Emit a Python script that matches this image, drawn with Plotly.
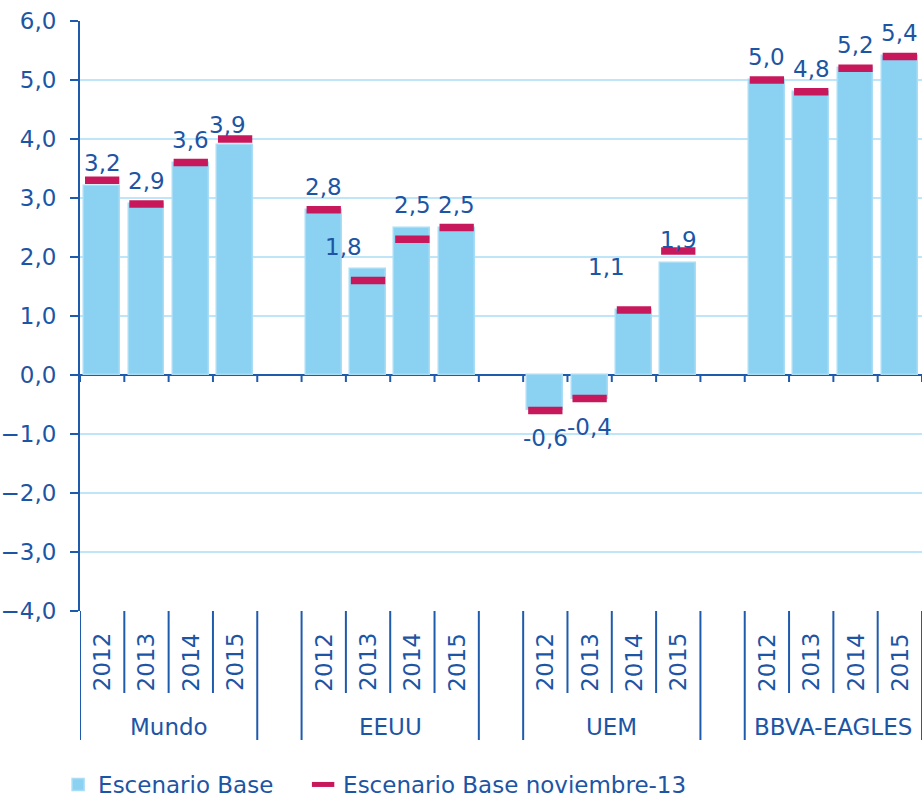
import plotly.graph_objects as go

# Regions and forecast years
groups = ["Mundo", "EEUU", "UEM", "BBVA-EAGLES"]
years = ["2012", "2013", "2014", "2015"]

# GDP growth (%), current baseline scenario
escenario_base = [3.2, 2.9, 3.6, 3.9,
                  2.8, 1.8, 2.5, 2.5,
                  -0.6, -0.4, 1.1, 1.9,
                  5.0, 4.8, 5.2, 5.4]

# GDP growth (%), baseline scenario of November 2013
escenario_nov13 = [3.3, 2.9, 3.6, 4.0,
                   2.8, 1.6, 2.3, 2.5,
                   -0.6, -0.4, 1.1, 2.1,
                   5.0, 4.8, 5.2, 5.4]

# y-axis range
y_min, y_max = -4, 6

# ---- styling ----
FONT = "DejaVu Sans"
TXT = "#1D55A5"
AXIS = "#1F5BAD"
GRID = "#BEE6F8"
BAR = "#8BD1F1"
BAR_EDGE = "#A9DDF5"
DASH = "#C8185C"
FS = 23

slots_per_group = len(years) + 1          # one empty slot between regions
n_slots = slots_per_group * len(groups) - 1

xpos = [g * slots_per_group + j for g in range(len(groups)) for j in range(len(years))]

fig = go.Figure()
fig.add_trace(go.Bar(
    x=xpos, y=escenario_base, width=0.81,
    marker=dict(color=BAR, line=dict(width=1.5, color=BAR_EDGE)),
    name="Escenario Base", legendwidth=200,
))
fig.add_trace(go.Scatter(
    x=xpos, y=escenario_nov13, mode="markers",
    # line-ew is 1.4 x size wide
    marker=dict(symbol="line-ew", size=24.5, line=dict(width=7.5, color=DASH), color=DASH),
    name="Escenario Base noviembre-13",
))

# value labels (a few are nudged sideways/up to avoid overlapping the dashes)
label_nudge = {3: (-8, 20), 5: (-25, 22), 10: (-27, 43)}
annotations = []
for i, (x, v) in enumerate(zip(xpos, escenario_base)):
    dx, dy = label_nudge.get(i, (0, 23 if v >= 0 else -28))
    annotations.append(dict(
        x=x, y=v, xref="x", yref="y", text=f"{v:.1f}".replace(".", ","),
        showarrow=False, xshift=dx, yshift=dy, xanchor="center", yanchor="middle",
        font=dict(family=FONT, size=FS, color=TXT),
    ))

# plot area geometry (pixels) used to place the category band below the plot
H = 801
top, bottom = 21, 190
plot_h = H - top - bottom


def paper_y(px):
    return (H - bottom - px) / plot_h


year_label_y = paper_y(662)
year_sep_y = paper_y(693)
group_sep_y = paper_y(740)
group_label_y = paper_y(727)

shapes = []
for g, name in enumerate(groups):
    start = g * slots_per_group
    for j, yr in enumerate(years):
        annotations.append(dict(
            x=start + j, y=year_label_y, xref="x", yref="paper", text=yr,
            textangle=-90, showarrow=False, xanchor="center", yanchor="middle",
            font=dict(family=FONT, size=FS, color=TXT),
        ))
        if j > 0:
            shapes.append(dict(type="line", xref="x", yref="paper",
                               x0=start + j - 0.5, x1=start + j - 0.5, y0=0, y1=year_sep_y,
                               line=dict(color=AXIS, width=2)))
    for edge in (start - 0.5, start + len(years) - 0.5):
        shapes.append(dict(type="line", xref="x", yref="paper",
                           x0=edge, x1=edge, y0=0, y1=group_sep_y,
                           line=dict(color=AXIS, width=2)))
    annotations.append(dict(
        x=start + (len(years) - 1) / 2, y=group_label_y, xref="x", yref="paper", text=name,
        showarrow=False, xanchor="center", yanchor="middle",
        font=dict(family=FONT, size=FS, color=TXT),
    ))

# small downward ticks on the zero line at every slot boundary
for k in range(n_slots + 1):
    shapes.append(dict(type="line", xref="x", yref="y", ysizemode="pixel", yanchor=0,
                       x0=k - 0.5, x1=k - 0.5, y0=0, y1=-7,
                       line=dict(color=AXIS, width=2)))

fig.update_layout(
    width=922, height=H,
    margin=dict(l=80, r=0, t=top, b=bottom, autoexpand=False),
    paper_bgcolor="white", plot_bgcolor="white",
    separators=",.",
    font=dict(family=FONT, size=FS, color=TXT),
    bargap=0, showlegend=True,
    legend=dict(orientation="h", x=-0.026, xanchor="left", y=paper_y(806), yanchor="bottom",
                font=dict(family=FONT, size=FS, color=TXT), bgcolor="rgba(0,0,0,0)",
                itemclick=False),
    xaxis=dict(range=[-0.5, n_slots - 0.5], showgrid=False, zeroline=False, showline=False,
               showticklabels=False, ticks="", fixedrange=True),
    yaxis=dict(range=[y_min, y_max], dtick=1, tickformat=".1f",
               showgrid=True, gridcolor=GRID, gridwidth=2,
               zeroline=True, zerolinecolor=AXIS, zerolinewidth=2,
               showline=True, linecolor=AXIS, linewidth=2,
               ticks="outside", ticklen=8, tickwidth=2, tickcolor=AXIS,
               ticklabelstandoff=9,
               tickfont=dict(family=FONT, size=FS, color=TXT), fixedrange=True),
    annotations=annotations,
    shapes=shapes,
)

fig.write_html("out.html")
